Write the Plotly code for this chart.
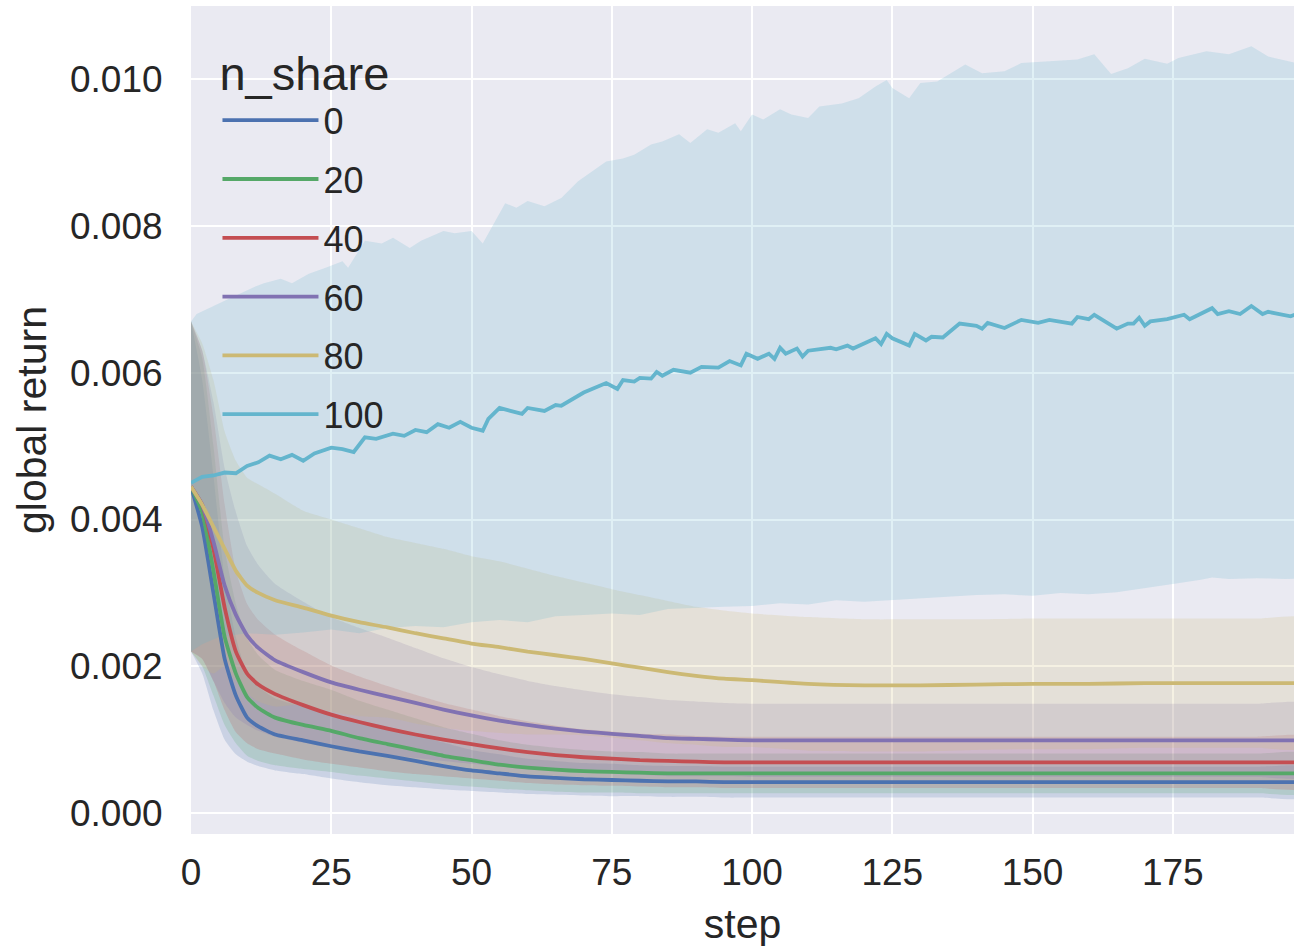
import plotly.graph_objects as go

# ---------------- data ----------------
steps = [0, 2, 4, 6, 8, 10, 12, 15, 20, 25, 30, 35, 40, 45, 50, 55, 60, 65, 70, 75,
         80, 85, 90, 95, 100, 110, 120, 130, 140, 150, 160, 170, 180, 190, 199]

mean_0 = [0.00445, 0.0039, 0.0030, 0.0021, 0.0016, 0.0013, 0.00118, 0.00107, 0.00099, 0.00091,
          0.00084, 0.00078, 0.00071, 0.00064, 0.00058, 0.00054, 0.00050, 0.00048, 0.00046, 0.00045,
          0.00044, 0.00043, 0.00043, 0.00042, 0.00042, 0.00042, 0.00042, 0.00042, 0.00042, 0.00042,
          0.00042, 0.00042, 0.00042, 0.00042, 0.00042]
sd_0 = [0.00225, 0.0020, 0.0016, 0.0011, 0.0008, 0.0006, 0.00054, 0.00049, 0.00046, 0.00044,
        0.00042, 0.00040, 0.00036, 0.00032, 0.00028, 0.00026, 0.00024, 0.00023, 0.00022, 0.00022,
        0.00021, 0.00021, 0.00021, 0.00021, 0.00021, 0.00021, 0.00021, 0.00021, 0.00021, 0.00021,
        0.00021, 0.00021, 0.00021, 0.00021, 0.00021]

mean_20 = [0.00445, 0.0041, 0.0033, 0.0024, 0.0019, 0.00158, 0.00143, 0.0013, 0.0012, 0.00112,
           0.00102, 0.00094, 0.00086, 0.00078, 0.00072, 0.00066, 0.00062, 0.00059, 0.00057, 0.00056,
           0.00055, 0.00054, 0.00054, 0.00054, 0.00054, 0.00054, 0.00054, 0.00054, 0.00054, 0.00054,
           0.00054, 0.00054, 0.00054, 0.00054, 0.00054]
sd_20 = [0.00225, 0.0021, 0.0017, 0.0012, 0.00095, 0.0008, 0.00072, 0.00065, 0.0006, 0.00056,
         0.00051, 0.00047, 0.00043, 0.00039, 0.00036, 0.00033, 0.00031, 0.0003, 0.00029, 0.00028,
         0.00028, 0.00027, 0.00027, 0.00027, 0.00027, 0.00027, 0.00027, 0.00027, 0.00027, 0.00027,
         0.00027, 0.00027, 0.00027, 0.00027, 0.00027]

mean_40 = [0.00445, 0.0042, 0.0036, 0.0028, 0.0022, 0.0019, 0.00175, 0.00162, 0.00147, 0.00134,
           0.00124, 0.00115, 0.00107, 0.0010, 0.00094, 0.00088, 0.00083, 0.00079, 0.00076, 0.00074,
           0.00072, 0.00071, 0.0007, 0.00069, 0.00069, 0.00069, 0.00069, 0.00069, 0.00069, 0.00069,
           0.00069, 0.00069, 0.00069, 0.00069, 0.00069]
sd_40 = [0.00225, 0.0021, 0.0018, 0.0014, 0.0011, 0.00095, 0.00088, 0.00081, 0.00074, 0.00067,
         0.00062, 0.00058, 0.00054, 0.0005, 0.00047, 0.00044, 0.00042, 0.0004, 0.00038, 0.00037,
         0.00036, 0.00036, 0.00035, 0.00035, 0.00035, 0.00035, 0.00035, 0.00035, 0.00035, 0.00035,
         0.00035, 0.00035, 0.00035, 0.00035, 0.00035]

mean_60 = [0.00445, 0.0042, 0.0037, 0.0031, 0.0027, 0.00242, 0.00225, 0.00208, 0.00192, 0.00178,
           0.00168, 0.00159, 0.0015, 0.00141, 0.00133, 0.00126, 0.0012, 0.00115, 0.00111, 0.00108,
           0.00105, 0.00102, 0.00101, 0.0010, 0.00099, 0.00099, 0.00099, 0.00099, 0.00099, 0.00099,
           0.00099, 0.00099, 0.00099, 0.00099, 0.00099]
sd_60 = [0.00225, 0.0021, 0.0019, 0.0016, 0.0014, 0.00122, 0.00113, 0.00104, 0.00096, 0.00089,
         0.00084, 0.0008, 0.00075, 0.0007, 0.00066, 0.00063, 0.0006, 0.00058, 0.00056, 0.00054,
         0.00053, 0.00052, 0.00051, 0.0005, 0.0005, 0.0005, 0.0005, 0.0005, 0.0005, 0.0005,
         0.0005, 0.0005, 0.0005, 0.0005, 0.0005]

mean_80 = [0.00445, 0.0042, 0.0039, 0.0036, 0.0033, 0.0031, 0.0030, 0.0029, 0.0028, 0.00269,
           0.0026, 0.00253, 0.00245, 0.00238, 0.00231, 0.00226, 0.0022, 0.00215, 0.0021, 0.00204,
           0.00198, 0.00192, 0.00187, 0.00183, 0.00181, 0.00176, 0.00174, 0.00174, 0.00175, 0.00176,
           0.00176, 0.00177, 0.00177, 0.00177, 0.00177]
sd_80 = [0.00225, 0.0022, 0.0020, 0.0016, 0.0015, 0.00147, 0.00148, 0.00145, 0.00132, 0.00131,
         0.00128, 0.00123, 0.00123, 0.00122, 0.00119, 0.00117, 0.00113, 0.00108, 0.00104, 0.00101,
         0.00099, 0.00097, 0.00094, 0.00093, 0.00091, 0.00091, 0.0009, 0.0009, 0.00089, 0.00089,
         0.00089, 0.00088, 0.00088, 0.00088, 0.00088]

# n_share = 100 (noisy series, own step grid)
steps_100 = [0, 2, 4, 6, 8, 10, 12, 14, 16, 18,
             20, 22, 25, 27, 29, 31, 33, 36, 38, 40,
             42, 44, 46, 48, 50, 52, 53, 55, 59, 60,
             63, 65, 66, 70, 74, 76, 77, 79, 80, 82,
             83, 84, 86, 89, 91, 94, 96, 98, 99, 101,
             103, 104, 105, 106, 108, 109, 110, 114, 115, 117,
             118, 121, 122, 123, 124, 125, 128, 129, 131, 132,
             134, 137, 140, 141, 142, 145, 148, 151, 153, 157,
             158, 160, 161, 165, 167, 168, 169, 170, 171, 174,
             177, 178, 182, 183, 185, 187, 189, 191, 192, 194,
             196, 197, 199]
mean_100 = [0.00450, 0.00458, 0.00460, 0.00464, 0.00463, 0.00473, 0.00478, 0.00487, 0.00482, 0.00488,
            0.00480, 0.00490, 0.00498, 0.00496, 0.00492, 0.00512, 0.00510, 0.00517, 0.00514, 0.00522,
            0.00519, 0.00530, 0.00525, 0.00533, 0.00525, 0.00521, 0.00537, 0.00552, 0.00544, 0.00552,
            0.00548, 0.00556, 0.00555, 0.00573, 0.00586, 0.00578, 0.00590, 0.00588, 0.00593, 0.00592,
            0.00601, 0.00596, 0.00604, 0.00600, 0.00608, 0.00607, 0.00616, 0.00610, 0.00626, 0.00619,
            0.00626, 0.00619, 0.00634, 0.00626, 0.00633, 0.00622, 0.00630, 0.00634, 0.00632, 0.00637,
            0.00633, 0.00644, 0.00647, 0.00639, 0.00653, 0.00647, 0.00637, 0.00653, 0.00644, 0.00649,
            0.00648, 0.00667, 0.00664, 0.00660, 0.00668, 0.00661, 0.00672, 0.00668, 0.00672, 0.00667,
            0.00676, 0.00673, 0.00679, 0.00660, 0.00667, 0.00667, 0.00675, 0.00664, 0.00670, 0.00673,
            0.00679, 0.00673, 0.00688, 0.00680, 0.00684, 0.00680, 0.00691, 0.00680, 0.00683, 0.00680,
            0.00677, 0.00680, 0.00678]

upper_steps_100 = [0, 1, 6, 11, 13, 16, 18, 21, 24, 27,
                   28, 31, 34, 36, 39, 41, 45, 47, 50, 52,
                   56, 58, 60, 63, 66, 69, 74, 77, 79, 82,
                   84, 87, 89, 92, 94, 97, 98, 100, 102, 105,
                   107, 110, 112, 116, 119, 122, 124, 125, 128, 130,
                   133, 138, 141, 145, 148, 153, 158, 161, 164, 167,
                   170, 174, 176, 181, 185, 189, 192, 197, 199]
upper_100 = [0.00670, 0.00680, 0.00698, 0.00716, 0.00722, 0.00728, 0.00722, 0.00735, 0.00743, 0.00752,
             0.00743, 0.00780, 0.00776, 0.00784, 0.00770, 0.00780, 0.00793, 0.00790, 0.00793, 0.00776,
             0.00831, 0.00825, 0.00834, 0.00827, 0.00838, 0.00861, 0.00888, 0.00892, 0.00897, 0.00911,
             0.00915, 0.00925, 0.00913, 0.00932, 0.00927, 0.00940, 0.00929, 0.00952, 0.00945, 0.00959,
             0.00952, 0.00947, 0.00963, 0.00967, 0.00974, 0.00990, 0.00999, 0.00988, 0.00974, 0.00995,
             0.00997, 0.01020, 0.01008, 0.01011, 0.01022, 0.01024, 0.01027, 0.01034, 0.01007, 0.01015,
             0.01028, 0.01021, 0.01029, 0.01038, 0.01034, 0.01045, 0.01031, 0.01022, 0.01020]

lower_steps_100 = [0, 2, 5, 10, 15, 20, 25, 30, 35, 40,
                   45, 50, 55, 60, 65, 70, 75, 80, 85, 90,
                   95, 100, 105, 110, 115, 120, 125, 130, 135, 140,
                   145, 150, 155, 160, 165, 170, 175, 180, 182, 185,
                   190, 195, 199]
lower_100 = [0.00220, 0.00230, 0.00240, 0.00245, 0.00243, 0.00246, 0.00250, 0.00245, 0.00252, 0.00255,
             0.00253, 0.00260, 0.00263, 0.00260, 0.00268, 0.00270, 0.00272, 0.00270, 0.00278, 0.00280,
             0.00281, 0.00282, 0.00286, 0.00284, 0.00290, 0.00288, 0.00291, 0.00292, 0.00295, 0.00297,
             0.00298, 0.00296, 0.00300, 0.00298, 0.00301, 0.00306, 0.00312, 0.00318, 0.00321, 0.00319,
             0.00320, 0.00319, 0.00320]

labels = ["0", "20", "40", "60", "80", "100"]
colors = ["#4C72B0", "#55A868", "#C44E52", "#8172B2", "#CCB974", "#64B5CD"]
x_ticks = [0, 25, 50, 75, 100, 125, 150, 175]


def rgba(hex_color, a):
    h = hex_color.lstrip("#")
    r, g, b = int(h[0:2], 16), int(h[2:4], 16), int(h[4:6], 16)
    return f"rgba({r},{g},{b},{a})"


FONT = "Liberation Sans, Arial, sans-serif"
TXT = "#262626"
LW = 3.8

fig = go.Figure()

# bands (drawn beneath all lines)
smooth = [(mean_0, sd_0), (mean_20, sd_20), (mean_40, sd_40), (mean_60, sd_60), (mean_80, sd_80)]
for (m, s), lab, col in zip(smooth, labels[:5], colors[:5]):
    up = [a + b for a, b in zip(m, s)]
    lo = [a - b for a, b in zip(m, s)]
    fig.add_trace(go.Scatter(
        x=steps + steps[::-1], y=up + lo[::-1], fill="toself",
        fillcolor=rgba(col, 0.2), line=dict(width=0, shape="spline", smoothing=0.5),
        mode="lines", showlegend=False, hoverinfo="skip", legendgroup=lab))

fig.add_trace(go.Scatter(
    x=upper_steps_100 + lower_steps_100[::-1], y=upper_100 + lower_100[::-1],
    fill="toself", fillcolor=rgba(colors[5], 0.2), line=dict(width=0), mode="lines",
    showlegend=False, hoverinfo="skip", legendgroup="100"))

# mean lines
all_means = [mean_0, mean_20, mean_40, mean_60, mean_80]
for m, lab, col in zip(all_means, labels[:5], colors[:5]):
    fig.add_trace(go.Scatter(x=steps, y=m, mode="lines", name=lab, legendgroup=lab,
                             line=dict(color=col, width=LW, shape="spline", smoothing=0.5)))
fig.add_trace(go.Scatter(x=steps_100, y=mean_100, mode="lines", name="100", legendgroup="100",
                         line=dict(color=colors[5], width=LW)))

fig.update_layout(
    width=1294, height=949,
    margin=dict(l=191, r=0, t=6, b=115),
    paper_bgcolor="white", plot_bgcolor="#EAEAF2",
    font=dict(family=FONT, size=37, color=TXT),
    legend=dict(
        title=dict(text="n_share", font=dict(size=47, family=FONT, color=TXT)),
        x=0.024, y=0.972, xanchor="left", yanchor="top",
        bgcolor="rgba(0,0,0,0)", borderwidth=0,
        font=dict(size=36, family=FONT, color=TXT),
        traceorder="grouped", tracegroupgap=9, itemwidth=96,
    ),
    xaxis=dict(
        range=[0, 196.6], tickmode="array", tickvals=x_ticks,
        showgrid=True, gridcolor="white", gridwidth=2, zeroline=False, showline=False,
        ticks="outside", ticklen=6, tickcolor="rgba(0,0,0,0)",
        tickfont=dict(size=37, family=FONT, color=TXT),
        title=dict(text="step", font=dict(size=41, family=FONT, color=TXT), standoff=16),
    ),
    yaxis=dict(
        range=[-0.000286, 0.010998], tick0=0, dtick=0.002, tickformat=".3f",
        showgrid=True, gridcolor="white", gridwidth=2, zeroline=False, showline=False,
        ticks="outside", ticklen=20, tickcolor="rgba(0,0,0,0)",
        tickfont=dict(size=37, family=FONT, color=TXT),
        title=dict(text="global return", font=dict(size=41, family=FONT, color=TXT), standoff=10),
    ),
)

fig.write_html("out.html", config={"displayModeBar": False},
               post_script="document.body.style.margin='0';document.body.style.overflow='hidden';")
